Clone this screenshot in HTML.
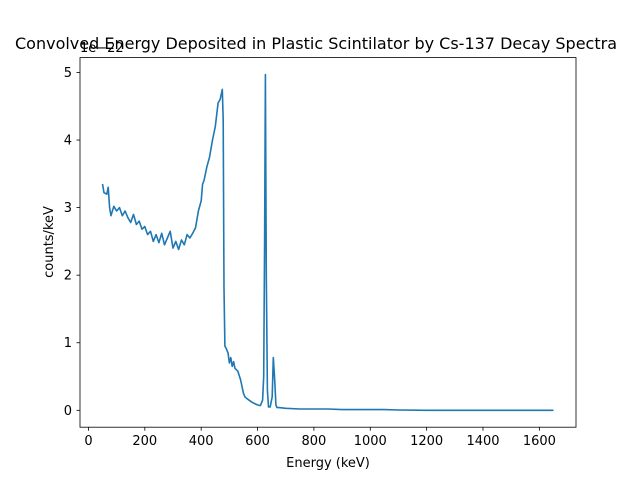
<!DOCTYPE html>
<html><head><meta charset="utf-8"><style>
body{margin:0;background:#fff}
svg{display:block;font-family:"DejaVu Sans","Liberation Sans",sans-serif}
</style></head><body>
<svg id="chart" width="640" height="480">
<rect width="640" height="480" fill="#fff"/>
<g id="ticks"></g>
<path id="line" fill="none" stroke="#1f77b4" stroke-width="1.6" stroke-linejoin="round"/>
<rect x="80" y="57.6" width="496" height="369.6" fill="none" stroke="#000" stroke-width="0.8"/>
<text x="15" y="49" font-size="16">Convolved Energy Deposited in Plastic Scintilator by Cs-137 Decay Spectra</text>
<text x="80" y="52" font-size="13">1e−22</text>
<text x="328" y="467" text-anchor="middle" font-size="13">Energy (keV)</text>
<text transform="translate(53,242) rotate(-90)" text-anchor="middle" font-size="13">counts/keV</text>
</svg>
<script>
const energies=[50,55,65,70,75,80,90,100,110,120,130,140,150,160,170,180,190,200,210,220,230,240,250,260,270,280,290,300,310,320,330,340,350,360,370,380,390,400,405,410,420,430,440,450,460,467,475,478,481,484,488,495,500,505,510,515,520,530,540,550,555,560,570,580,590,600,610,618,622,625,628,631,635,639,645,652,656,661,665,669,676,700,750,800,850,900,950,1000,1050,1100,1200,1300,1400,1500,1650];
const counts=[3.35,3.22,3.2,3.3,3.0,2.88,3.02,2.95,3.0,2.88,2.95,2.85,2.78,2.9,2.75,2.8,2.68,2.72,2.6,2.65,2.5,2.6,2.48,2.62,2.45,2.55,2.65,2.4,2.5,2.38,2.52,2.45,2.6,2.55,2.62,2.7,2.95,3.1,3.35,3.4,3.6,3.75,4.0,4.2,4.55,4.6,4.75,4.3,1.8,0.95,0.92,0.85,0.7,0.78,0.65,0.72,0.62,0.58,0.45,0.25,0.2,0.18,0.15,0.12,0.1,0.08,0.07,0.15,0.5,2.5,4.97,2.0,0.3,0.05,0.05,0.2,0.78,0.45,0.08,0.04,0.04,0.03,0.02,0.02,0.02,0.01,0.01,0.01,0.01,0.005,0,0,0,0,0];
const xTicks=[0,200,400,600,800,1000,1200,1400,1600];
const yTicks=[0,1,2,3,4,5];
const X0=-30,X1=1730,Y0=-0.25,Y1=5.22;
function sx(v){return 80+(v-X0)/(X1-X0)*496;}
function sy(v){return 427.2-(v-Y0)/(Y1-Y0)*369.6;}
const ns="http://www.w3.org/2000/svg";
const g=document.getElementById('ticks');
xTicks.forEach(t=>{
  const l=document.createElementNS(ns,'line');
  
  
  l.setAttribute('x1',sx(t));l.setAttribute('x2',sx(t));l.setAttribute('y1',427.2);l.setAttribute('y2',430.7);l.setAttribute('stroke','#000');l.setAttribute('stroke-width','0.8');
  g.appendChild(l);
  const tx=document.createElementNS(ns,'text');
  
  
  tx.setAttribute('x',sx(t));tx.setAttribute('y',445);tx.setAttribute('text-anchor','middle');tx.setAttribute('font-size','13');
  tx.textContent=t;g.appendChild(tx);
});
yTicks.forEach(t=>{
  const l=document.createElementNS(ns,'line');
  
  
  l.setAttribute('x1',76.5);l.setAttribute('x2',80);l.setAttribute('y1',sy(t));l.setAttribute('y2',sy(t));l.setAttribute('stroke','#000');l.setAttribute('stroke-width','0.8');
  g.appendChild(l);
  const tx=document.createElementNS(ns,'text');
  
  
  tx.setAttribute('x',72);tx.setAttribute('y',sy(t)+4.5);tx.setAttribute('text-anchor','end');tx.setAttribute('font-size','13');
  tx.textContent=t;g.appendChild(tx);
});
const n=Math.min(energies.length,counts.length);
let d='';
for(let i=0;i<n;i++){d+=(i?'L':'M')+sx(energies[i]).toFixed(1)+','+sy(counts[i]).toFixed(1);}
document.getElementById('line').setAttribute('d',d);
</script>
</body></html>
